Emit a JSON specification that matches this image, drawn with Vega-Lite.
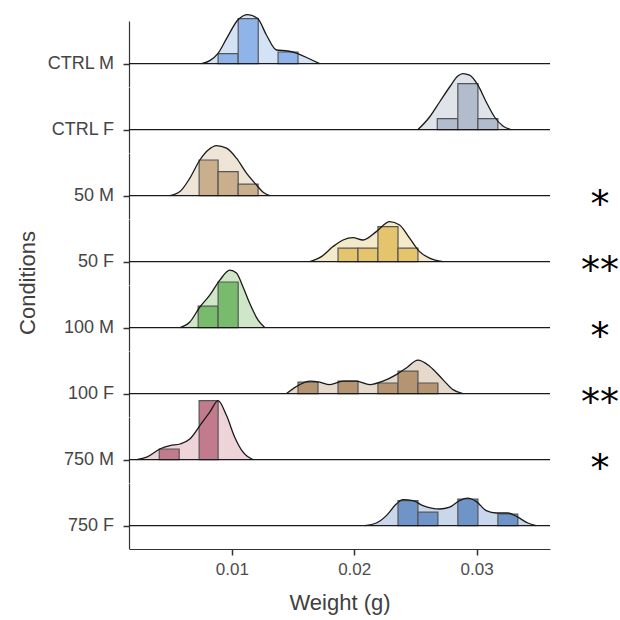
{
  "$schema": "https://vega.github.io/schema/vega-lite/v6.json",
  "padding": {"left": 17, "top": 11, "right": 0, "bottom": 4},
  "background": "white",
  "bounds": "flush",
  "config": {
    "view": {"stroke": null},
    "font": "Liberation Sans",
    "axis": {"grid": false, "domainColor": "#333333", "tickColor": "#333333", "domainWidth": 1.2, "tickWidth": 1.5, "tickSize": 6},
    "axisX": {"labelFontSize": 17, "labelColor": "#4d4d4d", "titleFontSize": 22, "titleFontWeight": "normal", "titleColor": "#404040", "labelPadding": 6, "titlePadding": 15}
  },
  "data": {"values": [
    {"k": "lab", "c": "CTRL M", "sig": ""},
    {"k": "lab", "c": "CTRL F", "sig": ""},
    {"k": "lab", "c": "50 M", "sig": "*"},
    {"k": "lab", "c": "50 F", "sig": "**"},
    {"k": "lab", "c": "100 M", "sig": "*"},
    {"k": "lab", "c": "100 F", "sig": "**"},
    {"k": "lab", "c": "750 M", "sig": "*"},
    {"k": "lab", "c": "750 F", "sig": ""},

    {"k": "dens", "c": "CTRL M", "w": 0.00753, "d": 0},
    {"k": "dens", "c": "CTRL M", "w": 0.0082, "d": 15},
    {"k": "dens", "c": "CTRL M", "w": 0.00886, "d": 50},
    {"k": "dens", "c": "CTRL M", "w": 0.00957, "d": 125},
    {"k": "dens", "c": "CTRL M", "w": 0.01049, "d": 218},
    {"k": "dens", "c": "CTRL M", "w": 0.01131, "d": 245},
    {"k": "dens", "c": "CTRL M", "w": 0.01212, "d": 225},
    {"k": "dens", "c": "CTRL M", "w": 0.01283, "d": 143},
    {"k": "dens", "c": "CTRL M", "w": 0.01365, "d": 68},
    {"k": "dens", "c": "CTRL M", "w": 0.01457, "d": 63},
    {"k": "dens", "c": "CTRL M", "w": 0.01539, "d": 50},
    {"k": "dens", "c": "CTRL M", "w": 0.01637, "d": 23},
    {"k": "dens", "c": "CTRL M", "w": 0.01718, "d": 0},

    {"k": "dens", "c": "CTRL F", "w": 0.02521, "d": 0},
    {"k": "dens", "c": "CTRL F", "w": 0.02616, "d": 63},
    {"k": "dens", "c": "CTRL F", "w": 0.02698, "d": 138},
    {"k": "dens", "c": "CTRL F", "w": 0.0278, "d": 213},
    {"k": "dens", "c": "CTRL F", "w": 0.02847, "d": 268},
    {"k": "dens", "c": "CTRL F", "w": 0.02888, "d": 280},
    {"k": "dens", "c": "CTRL F", "w": 0.02943, "d": 272},
    {"k": "dens", "c": "CTRL F", "w": 0.03011, "d": 222},
    {"k": "dens", "c": "CTRL F", "w": 0.03079, "d": 138},
    {"k": "dens", "c": "CTRL F", "w": 0.03147, "d": 63},
    {"k": "dens", "c": "CTRL F", "w": 0.03215, "d": 18},
    {"k": "dens", "c": "CTRL F", "w": 0.03283, "d": 0},

    {"k": "dens", "c": "50 M", "w": 0.00494, "d": 0},
    {"k": "dens", "c": "50 M", "w": 0.00576, "d": 20},
    {"k": "dens", "c": "50 M", "w": 0.00657, "d": 87},
    {"k": "dens", "c": "50 M", "w": 0.00739, "d": 178},
    {"k": "dens", "c": "50 M", "w": 0.00807, "d": 228},
    {"k": "dens", "c": "50 M", "w": 0.00875, "d": 250},
    {"k": "dens", "c": "50 M", "w": 0.00957, "d": 237},
    {"k": "dens", "c": "50 M", "w": 0.01038, "d": 187},
    {"k": "dens", "c": "50 M", "w": 0.0112, "d": 112},
    {"k": "dens", "c": "50 M", "w": 0.01202, "d": 53},
    {"k": "dens", "c": "50 M", "w": 0.01256, "d": 17},
    {"k": "dens", "c": "50 M", "w": 0.0131, "d": 0},

    {"k": "dens", "c": "50 F", "w": 0.01637, "d": 0},
    {"k": "dens", "c": "50 F", "w": 0.01732, "d": 25},
    {"k": "dens", "c": "50 F", "w": 0.01827, "d": 75},
    {"k": "dens", "c": "50 F", "w": 0.01909, "d": 108},
    {"k": "dens", "c": "50 F", "w": 0.0199, "d": 120},
    {"k": "dens", "c": "50 F", "w": 0.02072, "d": 108},
    {"k": "dens", "c": "50 F", "w": 0.02181, "d": 150},
    {"k": "dens", "c": "50 F", "w": 0.0229, "d": 200},
    {"k": "dens", "c": "50 F", "w": 0.02371, "d": 183},
    {"k": "dens", "c": "50 F", "w": 0.02453, "d": 117},
    {"k": "dens", "c": "50 F", "w": 0.02535, "d": 50},
    {"k": "dens", "c": "50 F", "w": 0.02616, "d": 17},
    {"k": "dens", "c": "50 F", "w": 0.02725, "d": 0},

    {"k": "dens", "c": "100 M", "w": 0.00576, "d": 0},
    {"k": "dens", "c": "100 M", "w": 0.00657, "d": 28},
    {"k": "dens", "c": "100 M", "w": 0.00739, "d": 103},
    {"k": "dens", "c": "100 M", "w": 0.0082, "d": 162},
    {"k": "dens", "c": "100 M", "w": 0.00902, "d": 237},
    {"k": "dens", "c": "100 M", "w": 0.00984, "d": 287},
    {"k": "dens", "c": "100 M", "w": 0.01038, "d": 273},
    {"k": "dens", "c": "100 M", "w": 0.01092, "d": 203},
    {"k": "dens", "c": "100 M", "w": 0.01147, "d": 120},
    {"k": "dens", "c": "100 M", "w": 0.01215, "d": 37},
    {"k": "dens", "c": "100 M", "w": 0.01269, "d": 0},

    {"k": "dens", "c": "100 F", "w": 0.01447, "d": 0},
    {"k": "dens", "c": "100 F", "w": 0.01555, "d": 45},
    {"k": "dens", "c": "100 F", "w": 0.01637, "d": 62},
    {"k": "dens", "c": "100 F", "w": 0.01718, "d": 57},
    {"k": "dens", "c": "100 F", "w": 0.018, "d": 45},
    {"k": "dens", "c": "100 F", "w": 0.01909, "d": 62},
    {"k": "dens", "c": "100 F", "w": 0.02018, "d": 62},
    {"k": "dens", "c": "100 F", "w": 0.02127, "d": 45},
    {"k": "dens", "c": "100 F", "w": 0.02235, "d": 62},
    {"k": "dens", "c": "100 F", "w": 0.02344, "d": 95},
    {"k": "dens", "c": "100 F", "w": 0.02426, "d": 128},
    {"k": "dens", "c": "100 F", "w": 0.02521, "d": 167},
    {"k": "dens", "c": "100 F", "w": 0.02616, "d": 137},
    {"k": "dens", "c": "100 F", "w": 0.02725, "d": 70},
    {"k": "dens", "c": "100 F", "w": 0.02807, "d": 20},
    {"k": "dens", "c": "100 F", "w": 0.02888, "d": 0},

    {"k": "dens", "c": "750 M", "w": 0.00222, "d": 0},
    {"k": "dens", "c": "750 M", "w": 0.00304, "d": 12},
    {"k": "dens", "c": "750 M", "w": 0.00412, "d": 53},
    {"k": "dens", "c": "750 M", "w": 0.00494, "d": 70},
    {"k": "dens", "c": "750 M", "w": 0.00576, "d": 78},
    {"k": "dens", "c": "750 M", "w": 0.00657, "d": 103},
    {"k": "dens", "c": "750 M", "w": 0.00739, "d": 170},
    {"k": "dens", "c": "750 M", "w": 0.0082, "d": 237},
    {"k": "dens", "c": "750 M", "w": 0.00888, "d": 295},
    {"k": "dens", "c": "750 M", "w": 0.00957, "d": 220},
    {"k": "dens", "c": "750 M", "w": 0.01024, "d": 112},
    {"k": "dens", "c": "750 M", "w": 0.01092, "d": 37},
    {"k": "dens", "c": "750 M", "w": 0.01174, "d": 0},

    {"k": "dens", "c": "750 F", "w": 0.02086, "d": 0},
    {"k": "dens", "c": "750 F", "w": 0.02181, "d": 13},
    {"k": "dens", "c": "750 F", "w": 0.02263, "d": 50},
    {"k": "dens", "c": "750 F", "w": 0.02344, "d": 108},
    {"k": "dens", "c": "750 F", "w": 0.02398, "d": 130},
    {"k": "dens", "c": "750 F", "w": 0.0248, "d": 125},
    {"k": "dens", "c": "750 F", "w": 0.02562, "d": 100},
    {"k": "dens", "c": "750 F", "w": 0.02698, "d": 83},
    {"k": "dens", "c": "750 F", "w": 0.0278, "d": 92},
    {"k": "dens", "c": "750 F", "w": 0.02861, "d": 125},
    {"k": "dens", "c": "750 F", "w": 0.02929, "d": 137},
    {"k": "dens", "c": "750 F", "w": 0.02998, "d": 120},
    {"k": "dens", "c": "750 F", "w": 0.03079, "d": 75},
    {"k": "dens", "c": "750 F", "w": 0.03161, "d": 63},
    {"k": "dens", "c": "750 F", "w": 0.03256, "d": 63},
    {"k": "dens", "c": "750 F", "w": 0.03337, "d": 42},
    {"k": "dens", "c": "750 F", "w": 0.03419, "d": 13},
    {"k": "dens", "c": "750 F", "w": 0.03487, "d": 0},

    {"k": "hist", "c": "CTRL M", "x0": 0.00888, "x1": 0.01052, "h": 50},
    {"k": "hist", "c": "CTRL M", "x0": 0.01052, "x1": 0.01216, "h": 225},
    {"k": "hist", "c": "CTRL M", "x0": 0.01378, "x1": 0.01541, "h": 58},
    {"k": "hist", "c": "CTRL F", "x0": 0.02679, "x1": 0.02847, "h": 55},
    {"k": "hist", "c": "CTRL F", "x0": 0.02847, "x1": 0.03011, "h": 230},
    {"k": "hist", "c": "CTRL F", "x0": 0.03011, "x1": 0.03174, "h": 55},
    {"k": "hist", "c": "50 M", "x0": 0.00733, "x1": 0.00888, "h": 178},
    {"k": "hist", "c": "50 M", "x0": 0.00888, "x1": 0.01052, "h": 120},
    {"k": "hist", "c": "50 M", "x0": 0.01052, "x1": 0.01215, "h": 57},
    {"k": "hist", "c": "50 F", "x0": 0.01868, "x1": 0.02031, "h": 67},
    {"k": "hist", "c": "50 F", "x0": 0.02031, "x1": 0.02194, "h": 67},
    {"k": "hist", "c": "50 F", "x0": 0.02194, "x1": 0.02358, "h": 175},
    {"k": "hist", "c": "50 F", "x0": 0.02358, "x1": 0.02521, "h": 67},
    {"k": "hist", "c": "100 M", "x0": 0.00725, "x1": 0.00888, "h": 107},
    {"k": "hist", "c": "100 M", "x0": 0.00888, "x1": 0.01052, "h": 228},
    {"k": "hist", "c": "100 F", "x0": 0.01541, "x1": 0.01704, "h": 57},
    {"k": "hist", "c": "100 F", "x0": 0.01868, "x1": 0.02031, "h": 62},
    {"k": "hist", "c": "100 F", "x0": 0.02194, "x1": 0.02358, "h": 53},
    {"k": "hist", "c": "100 F", "x0": 0.02358, "x1": 0.02521, "h": 112},
    {"k": "hist", "c": "100 F", "x0": 0.02521, "x1": 0.02684, "h": 53},
    {"k": "hist", "c": "750 M", "x0": 0.00407, "x1": 0.0057, "h": 53},
    {"k": "hist", "c": "750 M", "x0": 0.00733, "x1": 0.00888, "h": 295},
    {"k": "hist", "c": "750 F", "x0": 0.02358, "x1": 0.02521, "h": 125},
    {"k": "hist", "c": "750 F", "x0": 0.02521, "x1": 0.02684, "h": 67},
    {"k": "hist", "c": "750 F", "x0": 0.02847, "x1": 0.03011, "h": 133},
    {"k": "hist", "c": "750 F", "x0": 0.03174, "x1": 0.03337, "h": 58}
  ]},
  "facet": {
    "row": {
      "field": "c", "type": "nominal",
      "sort": ["CTRL M", "CTRL F", "50 M", "50 F", "100 M", "100 F", "750 M", "750 F"],
      "title": "Conditions",
      "header": {"labels": false, "titleFontSize": 22, "titleFontWeight": "normal", "titleColor": "#404040", "titlePadding": 72, "titleFont": "Liberation Sans"}
    }
  },
  "spacing": 0,
  "spec": {
    "width": 421,
    "height": 65.6,
    "layer": [
      {
        "transform": [{"filter": "datum.k == 'dens'"}],
        "mark": {"type": "area", "interpolate": "monotone"},
        "encoding": {
          "x": {"field": "w", "type": "quantitative", "scale": {"domain": [0.0016, 0.036], "nice": false, "zero": false}, "axis": {"title": "Weight (g)", "values": [0.01, 0.02, 0.03], "format": ".2f"}},
          "y": {"field": "d", "type": "quantitative", "scale": {"domain": [-115, 213], "nice": false, "zero": false}, "axis": {"title": null, "values": [0], "labels": false}},
          "fill": {"field": "c", "type": "nominal", "legend": null, "scale": {"domain": ["CTRL M", "CTRL F", "50 M", "50 F", "100 M", "100 F", "750 M", "750 F"], "range": ["#d4e2f6", "#dfe3ea", "#efe5d6", "#f4e9c9", "#cfe7c8", "#e4d9cb", "#eed3d9", "#c8d7ec"]}}
        }
      },
      {
        "transform": [{"filter": "datum.k == 'hist'"}],
        "mark": {"type": "rect", "stroke": "#555555", "strokeWidth": 1.2},
        "encoding": {
          "x": {"field": "x0", "type": "quantitative", "scale": {"domain": [0.0016, 0.036], "nice": false, "zero": false}, "axis": {"title": "Weight (g)", "values": [0.01, 0.02, 0.03], "format": ".2f"}},
          "x2": {"field": "x1"},
          "y": {"field": "h", "type": "quantitative", "scale": {"domain": [-115, 213], "nice": false, "zero": false}, "axis": {"title": null, "values": [0], "labels": false}},
          "y2": {"datum": 0},
          "fill": {"field": "c", "type": "nominal", "legend": null, "scale": {"domain": ["CTRL M", "CTRL F", "50 M", "50 F", "100 M", "100 F", "750 M", "750 F"], "range": ["#8fb4e9", "#b3bccc", "#c9af8b", "#e4c46c", "#79bb6d", "#b49471", "#c27b8c", "#6e94c8"]}}
        }
      },
      {
        "transform": [{"filter": "datum.k == 'dens'"}],
        "mark": {"type": "line", "interpolate": "monotone", "color": "#1a1a1a", "strokeWidth": 1.3},
        "encoding": {
          "x": {"field": "w", "type": "quantitative", "scale": {"domain": [0.0016, 0.036], "nice": false, "zero": false}, "axis": {"title": "Weight (g)", "values": [0.01, 0.02, 0.03], "format": ".2f"}},
          "y": {"field": "d", "type": "quantitative", "scale": {"domain": [-115, 213], "nice": false, "zero": false}, "axis": {"title": null, "values": [0], "labels": false}}
        }
      },
      {
        "transform": [{"filter": "datum.k == 'lab'"}],
        "mark": {"type": "rule", "color": "#1a1a1a", "strokeWidth": 1.3},
        "encoding": {
          "y": {"datum": 0, "type": "quantitative", "scale": {"domain": [-115, 213], "nice": false, "zero": false}, "axis": {"title": null, "values": [0], "labels": false}}
        }
      },
      {
        "transform": [{"filter": "datum.k == 'lab'"}],
        "mark": {"type": "text", "align": "right", "baseline": "middle", "dx": -15, "fontSize": 18, "color": "#454545", "font": "Liberation Sans"},
        "encoding": {
          "x": {"datum": 0.0016, "type": "quantitative", "scale": {"domain": [0.0016, 0.036], "nice": false, "zero": false}, "axis": {"title": "Weight (g)", "values": [0.01, 0.02, 0.03], "format": ".2f"}},
          "y": {"datum": 0, "type": "quantitative", "scale": {"domain": [-115, 213], "nice": false, "zero": false}, "axis": {"title": null, "values": [0], "labels": false}},
          "text": {"field": "c"}
        }
      },
      {
        "transform": [{"filter": "datum.k == 'lab'"}],
        "mark": {"type": "text", "align": "center", "baseline": "alphabetic", "dx": 50, "dy": 21, "fontSize": 38, "color": "#000000", "font": "DejaVu Sans"},
        "encoding": {
          "x": {"datum": 0.036, "type": "quantitative", "scale": {"domain": [0.0016, 0.036], "nice": false, "zero": false}, "axis": {"title": "Weight (g)", "values": [0.01, 0.02, 0.03], "format": ".2f"}},
          "y": {"datum": 0, "type": "quantitative", "scale": {"domain": [-115, 213], "nice": false, "zero": false}, "axis": {"title": null, "values": [0], "labels": false}},
          "text": {"field": "sig"}
        }
      }
    ],
    "resolve": {"scale": {"fill": "independent"}}
  }
}
